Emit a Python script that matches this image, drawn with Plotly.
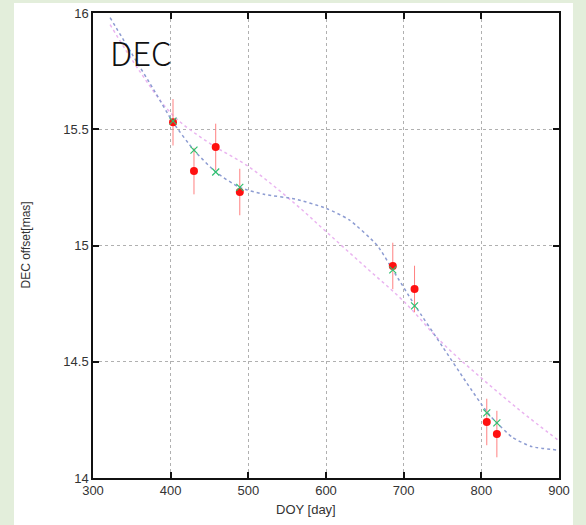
import plotly.graph_objects as go

# Observations (red points with error bars)
obs_day = [403, 430, 458, 489, 686, 714, 807, 820]
obs_dec = [15.53, 15.32, 15.424, 15.23, 14.912, 14.813, 14.241, 14.189]
obs_err = [0.1, 0.1, 0.1, 0.1, 0.1, 0.1, 0.1, 0.1]

# Model values at observation epochs (green crosses)
mod_day = [403, 430, 458, 489, 686, 714, 807, 820]
mod_dec = [15.535, 15.41, 15.316, 15.25, 14.895, 14.74, 14.28, 14.237]

# Model curve with parallax (blue dotted)
fit_day = [322, 350, 380, 403, 430, 458, 489, 520, 560, 600, 630, 666, 686, 714, 750, 780, 807, 820, 840, 865, 899]
fit_dec = [15.98, 15.825, 15.66, 15.53, 15.41, 15.316, 15.25, 15.22, 15.2, 15.16, 15.11, 15.0, 14.895, 14.745, 14.565, 14.415, 14.285, 14.237, 14.175, 14.135, 14.12]

# Proper-motion-only curve (pink dotted)
pm_day = [322, 360, 403, 450, 500, 560, 600, 650, 700, 750, 800, 850, 898]
pm_dec = [15.95, 15.75, 15.56, 15.44, 15.34, 15.18, 15.06, 14.91, 14.76, 14.58, 14.43, 14.29, 14.165]

x_ticks = [300, 400, 500, 600, 700, 800, 900]
y_ticks = [14, 14.5, 15, 15.5, 16]

fig = go.Figure()
fig.add_trace(go.Scatter(x=pm_day, y=pm_dec, mode="lines",
                         line=dict(color="#eab4f0", width=1.5, dash="dot", shape="spline"),
                         hoverinfo="skip"))
fig.add_trace(go.Scatter(x=fit_day, y=fit_dec, mode="lines",
                         line=dict(color="#8d9cd2", width=1.5, dash="dot", shape="spline", smoothing=0.6),
                         hoverinfo="skip"))
fig.add_trace(go.Scatter(x=obs_day, y=obs_dec, mode="markers",
                         marker=dict(color="#ff1010", size=8),
                         error_y=dict(type="data", array=obs_err, color="#ff8080", thickness=1, width=0)))
fig.add_trace(go.Scatter(x=mod_day, y=mod_dec, mode="markers",
                         marker=dict(color="#30c070", size=7, symbol="x-thin", line=dict(color="#30c070", width=1.2))))

axis_common = dict(showline=True, linecolor="#111", linewidth=1.5, mirror="ticks",
                   ticks="inside", ticklen=6, tickwidth=1.5, tickcolor="#111",
                   showgrid=True, gridcolor="#b0b0b0", griddash="dot", gridwidth=1,
                   zeroline=False, automargin=False,
                   tickfont=dict(family="Liberation Sans, Arial", size=13, color="#333"))

fig.update_xaxes(range=[300, 900], tickvals=x_ticks, ticktext=[str(v) for v in x_ticks], **axis_common)
fig.update_yaxes(range=[14, 16], tickvals=y_ticks, ticktext=["14", "14.5", "15", "15.5", "16"], **axis_common)

fig.update_layout(
    width=586, height=525,
    margin=dict(l=93, r=27, t=13, b=47),
    paper_bgcolor="#e3eedb", plot_bgcolor="white",
    showlegend=False,
    shapes=[dict(type="rect", xref="paper", yref="paper", x0=-0.1695, x1=1.030, y0=-0.11, y1=1.0215,
                 fillcolor="white", line=dict(width=0), layer="below")],
    annotations=[
        dict(text="DEC", xref="paper", yref="paper", x=(108 - 93) / 466, y=1 - (26 - 13) / 465,
             xanchor="left", yanchor="top", showarrow=False,
             font=dict(family="Noto Sans CJK JP, Noto Sans", size=33, color="#111", weight=300)),
        dict(text="DOY [day]", xref="paper", yref="paper", x=(306 - 93) / 466, y=(478 - 509) / 465,
             xanchor="center", yanchor="middle", showarrow=False,
             font=dict(family="Liberation Sans, Arial", size=13, color="#333")),
        dict(text="DEC offset[mas]", xref="paper", yref="paper", x=(25 - 93) / 466, y=0.5,
             xanchor="center", yanchor="middle", showarrow=False, textangle=-90,
             font=dict(family="Liberation Sans, Arial", size=12, color="#333")),
    ],
)

fig.write_html("out.html", config={"displayModeBar": False},
               post_script="document.body.style.margin='0';document.body.style.background='#e3eedb';")
